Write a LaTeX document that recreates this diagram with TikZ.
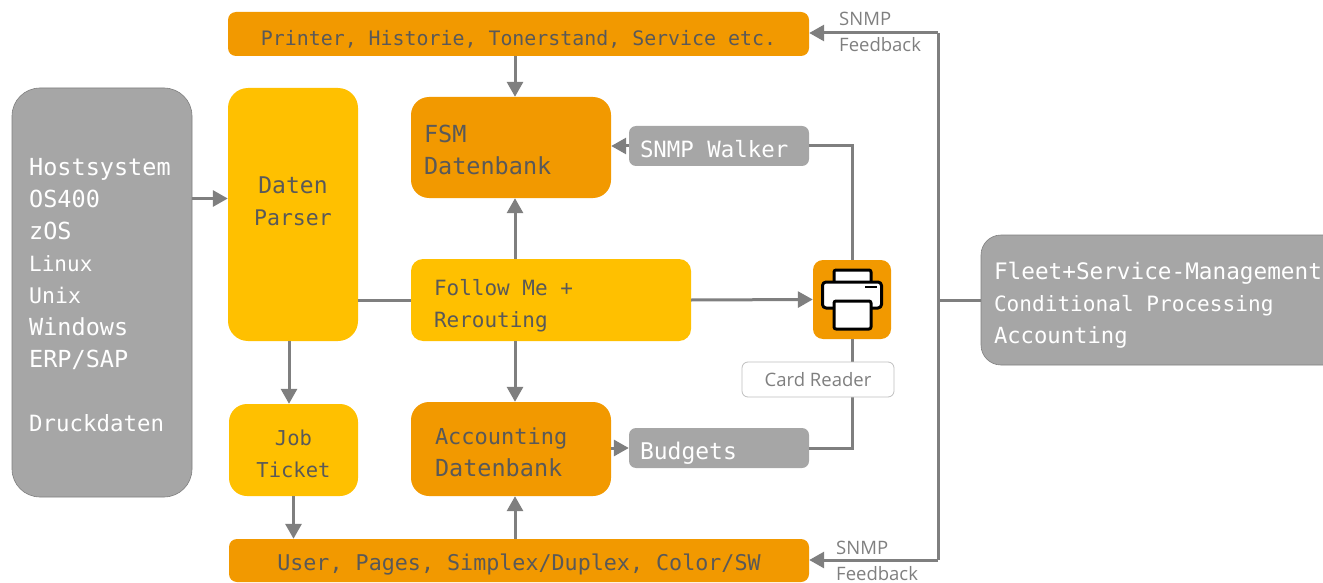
\documentclass[tikz,border=0pt]{standalone}
\usepackage{fontspec}
\usetikzlibrary{arrows.meta,calc}
\setmainfont{Open Sans}
\newfontfamily\techfont{DejaVu Sans Mono}
\definecolor{boxorange}{HTML}{F29900}
\definecolor{boxyellow}{HTML}{FFC000}
\definecolor{boxgrey}{HTML}{A6A6A6}
\definecolor{linegrey}{HTML}{7F7F7F}
\definecolor{darktext}{HTML}{595959}
\definecolor{framegrey}{HTML}{BFBFBF}
\newcommand{\techsize}[1]{\techfont\fontsize{#1}{32}\selectfont}
\newcommand{\pushdown}[1]{\rule{0pt}{\dimexpr 17pt+2\dimexpr #1\relax\relax}}
\newcommand{\pushup}[1]{\rule[-\dimexpr 2\dimexpr #1\relax\relax]{0pt}{\dimexpr 2\dimexpr #1\relax\relax}}
\tikzset{
  tech/.style={font=\techsize{23},align=flush left},
  panel/.style={tech,draw=none,minimum width=#1,inner sep=0pt},
  orangebox/.style={panel=#1,fill=boxorange,text=darktext},
  yellowbox/.style={panel=#1,fill=boxyellow,text=darktext},
  greybox/.style={panel=#1,fill=boxgrey,text=white},
  wire/.style={draw=linegrey,line width=3pt},
  arrowwire/.style={wire,-{Triangle[length=15pt,width=16pt]}},
  note/.style={font=\fontsize{18.5}{26}\selectfont,text=linegrey,align=left,inner sep=0pt},
  inkline/.style={draw=black,line width=3pt,line join=round},
}
\begin{document}
\begin{tikzpicture}[x=1pt,y=-1pt]
\useasboundingbox (0,0) rectangle (1323,583);
% junction and routing points
\coordinate (busTop) at (938,33);
\coordinate (busBottom) at (938,560);
\coordinate (busMid) at (938,300);
\coordinate (xMiddle) at (515,300);

\node[greybox=180pt,minimum height=409pt,rounded corners=28pt,draw=linegrey,line width=.6pt] (host) at (102,292.5) {};
\node[yellowbox=130pt,minimum height=253pt,rounded corners=20pt,align=center] (parser) at (293,214.5) {Daten\\\techsize{21.5}Parser\pushup{13pt}};
\node[orangebox=581pt,minimum height=44pt,rounded corners=8pt,font=\techsize{19.9},align=center] (topbar) at (518.5,34) {\pushdown{4pt}Printer, Historie, Tonerstand, Service etc.};
\node[orangebox=200pt,minimum height=101pt,rounded corners=18pt,text width=174pt,font=\techsize{23.5}] (fsm) at (511,147.5) {\pushdown{3pt}FSM\\Datenbank};
\node[greybox=180pt,minimum height=40pt,rounded corners=7pt,text width=158pt,font=\techsize{22.4}] (walker) at (719,146) {\pushdown{3pt}SNMP Walker};
\node[yellowbox=280pt,minimum height=82pt,rounded corners=12pt,text width=234pt,font=\techsize{21}] (follow) at (551,300) {\pushdown{5pt}Follow Me +\\Rerouting};
\node[orangebox=200pt,minimum height=94pt,rounded corners=18pt,text width=152pt,font=\techsize{22}] (accdb) at (511,449) {\pushdown{3pt}Accounting\\\techsize{23.5}Datenbank};
\node[greybox=180pt,minimum height=40pt,rounded corners=7pt,text width=158pt] (budgets) at (719,448) {\pushdown{5pt}Budgets};
\node[yellowbox=129pt,minimum height=92pt,rounded corners=18pt,align=center,font=\techsize{20.5}] (job) at (293.5,450) {\pushdown{3pt}Job\\Ticket};
\node[orangebox=580pt,minimum height=43pt,rounded corners=8pt,font=\techsize{21.7},align=center] (bottombar) at (519,560.5) {\pushdown{4pt}User, Pages, Simplex/Duplex, Color/SW};
\node[fill=boxorange,minimum width=78pt,minimum height=79pt,inner sep=0pt,rounded corners=10pt] (printer) at (852,299.5) {};
\node[greybox=372pt,minimum height=130pt,rounded corners=20pt,text width=346pt,draw=linegrey,line width=.6pt,font=\techsize{22.7}] (fleet) at (1167,300) {\pushdown{5pt}Fleet+Service-Management\\\techsize{21.1}Conditional Processing\\\techsize{22.2}Accounting};

% connectors
\draw[arrowwire] (host.east |- parser.center) ++(0,-16) coordinate (hostOut) -- (hostOut -| parser.west);
\draw[arrowwire] (topbar.south -| xMiddle) -- (fsm.north -| xMiddle);
\draw[arrowwire] (walker.west) -- (fsm.east |- walker.west);
\draw[wire] (walker.east) -| (printer.north);
\draw[arrowwire] (follow.north -| xMiddle) -- (fsm.south -| xMiddle);
\draw[arrowwire] (follow.south -| xMiddle) -- (accdb.north -| xMiddle);
\draw[wire] (parser.east |- follow.west) -- (follow.west);
\draw[arrowwire] (follow.east) -- (printer.west);
\draw[arrowwire] (parser.south -| job.center) ++(-4.5,0) coordinate (parserOut) -- (parserOut |- job.north);
\draw[arrowwire] (job.south) -- (job.south |- bottombar.north);
\draw[arrowwire] (bottombar.north -| xMiddle) -- (accdb.south -| xMiddle);
\draw[arrowwire] (accdb.east |- budgets.west) -- (budgets.west);
\draw[wire] (budgets.east) -| (printer.south);
\draw[wire] (busTop) -- (busBottom);
\draw[wire] (fleet.west) -- (busMid);
\draw[arrowwire] (busTop) -- (topbar.east |- busTop);
\draw[arrowwire] (busBottom) -- (bottombar.east |- busBottom);

% host text
\node[tech,text=white,inner sep=0pt,anchor=west,font=\techsize{23.5},align=left] (hosttext) at (29,295.5) {Hostsystem\\OS400\\zOS\\\techsize{21}Linux\\\techsize{21.5}Unix\\\techsize{23.5}Windows\\ERP/SAP\\[32pt]\techsize{22.4}Druckdaten};

% card reader
\node[draw=framegrey,fill=white,line width=.8pt,rounded corners=6pt,minimum width=152pt,minimum height=35pt,inner sep=0pt,font=\fontsize{18.5}{20}\selectfont,text=linegrey] (card) at (818,379.5) {Card Reader};

% notes
\node[note,anchor=west] (noteTop) at (839,32) {SNMP\\Feedback};
\node[note,anchor=west] (noteBottom) at (836,561) {SNMP\\Feedback};

% printer icon
\path[fill=white,inkline,rounded corners=2pt] (834,281) -- (834,270) -- (871,270) -- (871,281);
\path[fill=white,inkline,rounded corners=3.5pt] (822.5,282) rectangle (881.5,308);
\draw[draw=black,line width=2pt] (865,286.5) -- (877,286.5);
\path[fill=white,inkline,rounded corners=2pt] (834,301) rectangle (871,329);
\end{tikzpicture}
\end{document}
